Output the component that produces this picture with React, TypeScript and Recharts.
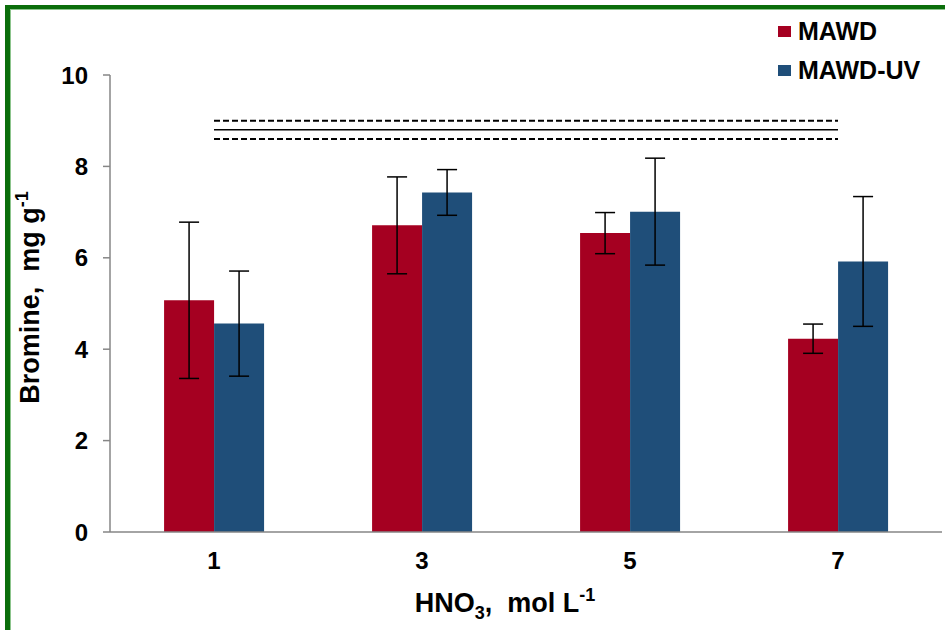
import React from 'react';
import { BarChart, Bar, XAxis, YAxis, ErrorBar, ReferenceLine } from 'recharts';

const acid = ['1', '3', '5', '7'];
const mawd = [5.07, 6.71, 6.54, 4.23];
const mawdErr = [1.71, 1.06, 0.45, 0.32];
const mawdUv = [4.56, 7.43, 7.01, 5.92];
const mawdUvErr = [1.15, 0.5, 1.17, 1.42];
const yTicks = [0, 2, 4, 6, 8, 10];
const upperLevel = 9.0;
const meanLevel = 8.8;
const lowerLevel = 8.6;
const seriesNames = ['MAWD', 'MAWD-UV'];
const colors = ['#A50021', '#1F4E79'];

const data = acid.map((a, i) => ({
  acid: a,
  mawd: mawd[i],
  mawdErr: mawdErr[i],
  mawdUv: mawdUv[i],
  mawdUvErr: mawdUvErr[i],
}));

const FONT = '"Liberation Sans", Arial, sans-serif';

const XLabel = (props: any) => {
  const vb = props.viewBox;
  const cx = vb.x + vb.width / 2 - 21;
  return (
    <text x={cx} y={vb.y + 80} textAnchor="middle" fontFamily={FONT} fontWeight="bold" fontSize={27} fill="#000" xmlSpace="preserve">
      HNO<tspan fontSize={18} dy={7}>3</tspan>
      <tspan dy={-7}>,  mol L</tspan>
      <tspan fontSize={18} dy={-11}>-1</tspan>
    </text>
  );
};

const YLabel = (props: any) => {
  const vb = props.viewBox;
  const cx = 39;
  const cy = vb.y + vb.height / 2 - 6;
  return (
    <text x={cx} y={cy} transform={`rotate(-90 ${cx} ${cy})`} textAnchor="middle" fontFamily={FONT} fontWeight="bold" fontSize={27} fill="#000" xmlSpace="preserve">
      Bromine,  mg g<tspan fontSize={18} dy={-11}>-1</tspan>
    </text>
  );
};

export default function App() {
  return (
    <div style={{ position: 'absolute', left: 0, top: 0, width: 945, height: 630, background: '#fff', overflow: 'hidden' }}>
      <div style={{ position: 'absolute', left: 5, top: 5, width: 960, height: 700, borderLeft: '5px solid #0b6e0b', borderTop: '4px solid #0b6e0b' }} />
      <div style={{ position: 'absolute', left: 10, top: 9, width: 960, height: 700, borderLeft: '1px solid #8cc48c', borderTop: '1px solid #8cc48c' }} />
      <div style={{ position: 'absolute', left: 0, top: 0 }}>
        <BarChart width={945} height={630} data={data} margin={{ top: 75, right: 3, left: 0, bottom: 38 }} barCategoryGap="26%" barGap={0}>
          <XAxis
            dataKey="acid"
            height={60}
            tickLine={false}
            tickSize={0}
            tickMargin={20}
            axisLine={{ stroke: '#868686', strokeWidth: 1.5 }}
            tick={{ fontFamily: FONT, fontWeight: 'bold', fontSize: 24, fill: '#000' }}
            label={<XLabel />}
          />
          <YAxis
            width={110}
            domain={[0, 10]}
            ticks={yTicks}
            interval={0}
            tickSize={7}
            tickMargin={15}
            axisLine={{ stroke: '#868686', strokeWidth: 1.5 }}
            tickLine={{ stroke: '#868686', strokeWidth: 1.5 }}
            tick={{ fontFamily: FONT, fontWeight: 'bold', fontSize: 24, fill: '#000' }}
            label={<YLabel />}
          />
          <Bar dataKey="mawd" name={seriesNames[0]} fill={colors[0]} isAnimationActive={false}>
            <ErrorBar dataKey="mawdErr" width={10} stroke="#000" strokeWidth={1.5} isAnimationActive={false} />
          </Bar>
          <Bar dataKey="mawdUv" name={seriesNames[1]} fill={colors[1]} isAnimationActive={false}>
            <ErrorBar dataKey="mawdUvErr" width={10} stroke="#000" strokeWidth={1.5} isAnimationActive={false} />
          </Bar>
          <ReferenceLine segment={[{ x: acid[0], y: upperLevel }, { x: acid[3], y: upperLevel }]} stroke="#000" strokeWidth={2} strokeDasharray="6 3" />
          <ReferenceLine segment={[{ x: acid[0], y: meanLevel }, { x: acid[3], y: meanLevel }]} stroke="#000" strokeWidth={1.5} />
          <ReferenceLine segment={[{ x: acid[0], y: lowerLevel }, { x: acid[3], y: lowerLevel }]} stroke="#000" strokeWidth={2} strokeDasharray="6 3" />
        </BarChart>
      </div>
      <div style={{ position: 'absolute', left: 778, top: 12, fontFamily: FONT, fontWeight: 'bold', fontSize: 25, color: '#000' }}>
        {seriesNames.map((n, i) => (
          <div key={n} style={{ display: 'flex', alignItems: 'center', height: 39 }}>
            <span style={{ display: 'inline-block', width: 13, height: 11, background: colors[i], marginRight: 7 }} />
            <span>{n}</span>
          </div>
        ))}
      </div>
    </div>
  );
}
